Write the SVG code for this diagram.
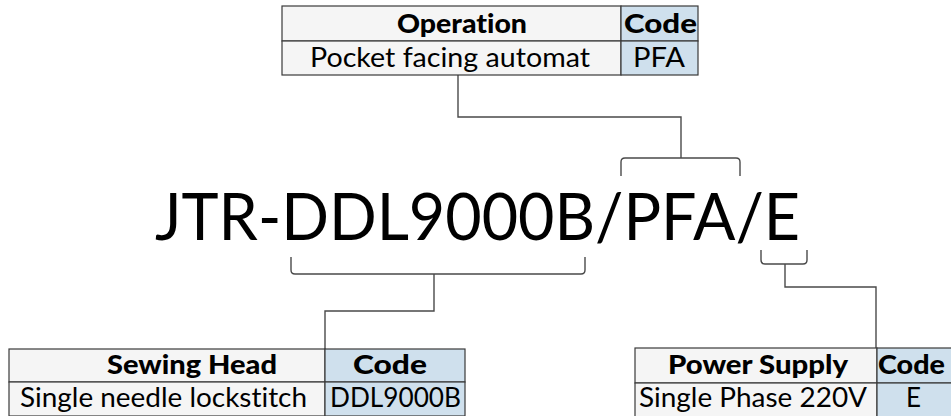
<svg xmlns="http://www.w3.org/2000/svg" width="951" height="416" viewBox="0 0 951 416">
<style>
.bg{fill:#ffffff}
.name{fill:#f5f5f5;stroke:#3a3a3a;stroke-width:1.2}
.code{fill:#cfe0ed;stroke:#3a3a3a;stroke-width:1.2}
text{font-family:Lato,"Liberation Sans",sans-serif;fill:#000;font-variant-ligatures:none;font-feature-settings:"liga" 0,"dlig" 0}
.hd{font-weight:900;font-size:26px}
.tx{font-weight:400;font-size:26px}
.big{font-weight:400;font-size:66px}
.ln{fill:none;stroke:#4a4a4a;stroke-width:1.4}
</style>
<rect class="bg" x="0" y="0" width="951" height="416"/>
<g id="connectors">
<path class="ln" d="M458,75 V117 H681 V158"/>
<path class="ln" d="M621,176 V162 Q621,158 625,158 H736 Q740,158 740,162 V176"/>
<path class="ln" d="M291,257 V270 Q291,274 295,274 H581 Q585,274 585,270 V257"/>
<path class="ln" d="M434,274 V311 H325 V349"/>
<path class="ln" d="M761,250 V260 Q761,264 765,264 H803 Q807,264 807,260 V250"/>
<path class="ln" d="M785,264 V287 H876 V348"/>
</g>
<g id="model">
<text class="big" x="155" y="240" textLength="645" lengthAdjust="spacingAndGlyphs">JTR-DDL9000B/PFA/E</text>
</g>
<g id="operation">
<rect class="name" x="282" y="6" width="339" height="35"/>
<rect class="code" x="621" y="6" width="77" height="35"/>
<rect class="name" x="282" y="41" width="339" height="34"/>
<rect class="code" x="621" y="41" width="77" height="34"/>
<text class="hd" x="397" y="33" textLength="130" lengthAdjust="spacingAndGlyphs">Operation</text>
<text class="hd" x="624" y="33" textLength="73" lengthAdjust="spacingAndGlyphs">Code</text>
<text class="tx" x="310" y="67" textLength="280" lengthAdjust="spacingAndGlyphs">Pocket facing automat</text>
<text class="tx" x="633" y="67" textLength="52" lengthAdjust="spacingAndGlyphs">PFA</text>
</g>
<g id="sewing-head">
<rect class="name" x="9" y="349" width="316" height="33"/>
<rect class="code" x="325" y="349" width="140" height="33"/>
<rect class="name" x="9" y="382" width="316" height="34"/>
<rect class="code" x="325" y="382" width="140" height="34"/>
<text class="hd" x="107" y="374" textLength="170" lengthAdjust="spacingAndGlyphs">Sewing Head</text>
<text class="hd" x="353" y="374" textLength="74" lengthAdjust="spacingAndGlyphs">Code</text>
<text class="tx" x="20" y="407" textLength="287" lengthAdjust="spacingAndGlyphs">Single needle lockstitch</text>
<text class="tx" x="330" y="407" textLength="131" lengthAdjust="spacingAndGlyphs">DDL9000B</text>
</g>
<g id="power-supply">
<rect class="name" x="635" y="348" width="242" height="35"/>
<rect class="code" x="877" y="348" width="80" height="35"/>
<rect class="name" x="635" y="383" width="242" height="34"/>
<rect class="code" x="877" y="383" width="80" height="34"/>
<text class="hd" x="668" y="374" textLength="180" lengthAdjust="spacingAndGlyphs">Power Supply</text>
<text class="hd" x="878" y="374" textLength="67" lengthAdjust="spacingAndGlyphs">Code</text>
<text class="tx" x="639" y="407" textLength="228" lengthAdjust="spacingAndGlyphs">Single Phase 220V</text>
<text class="tx" x="906" y="407" textLength="15" lengthAdjust="spacingAndGlyphs">E</text>
</g>
</svg>
